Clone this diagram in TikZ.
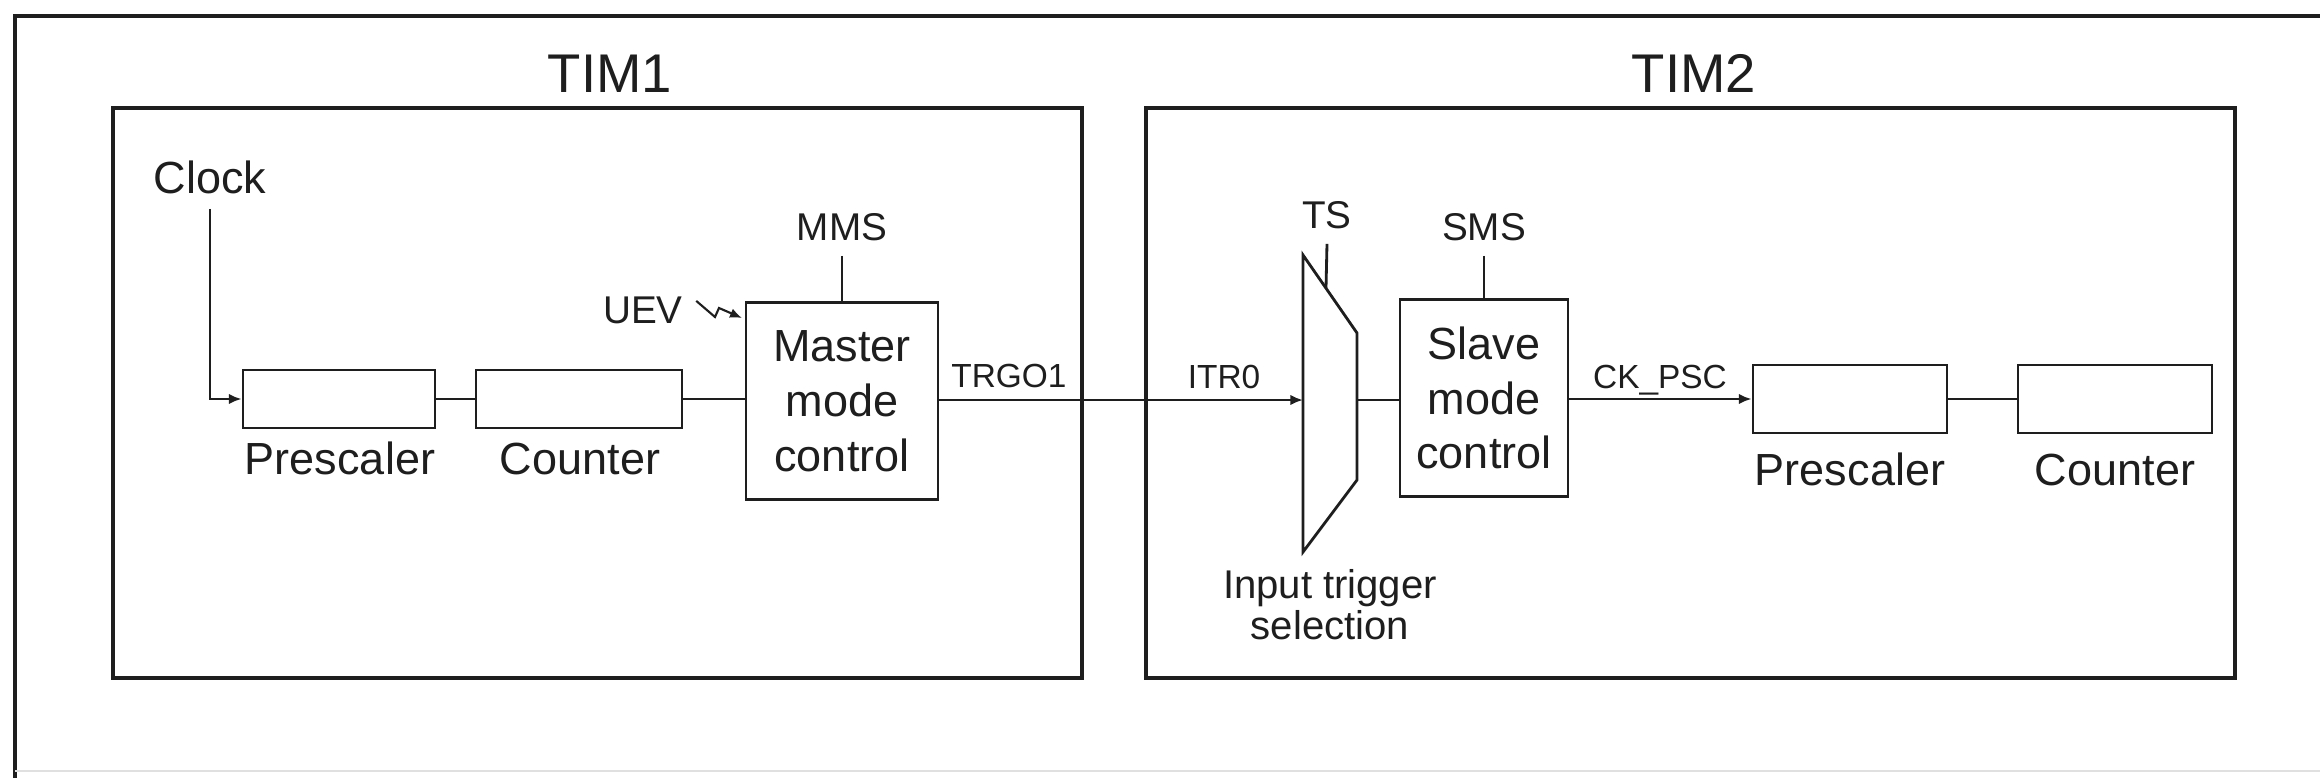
\documentclass[tikz,border=0pt]{standalone}
\usepackage{fontspec}
\setmainfont{Liberation Sans}
\usetikzlibrary{arrows.meta}
\definecolor{ink}{HTML}{1E1E1E}
\begin{document}
\begin{tikzpicture}[x=0.01cm,y=-0.01cm,
  timbox/.style={draw=ink,line width=1.1pt},
  blk/.style={draw=ink,line width=0.8pt,inner sep=0pt,text=ink},
  wire/.style={draw=ink,line width=0.8pt},
  sig/.style={wire,-{Latex[length=3.6pt,width=3pt]}},
  big/.style={font=\fontsize{12.8}{15.6}\selectfont,text=ink},
  mid/.style={font=\fontsize{11}{14.8}\selectfont,text=ink},
  small/.style={font=\fontsize{9.5}{11}\selectfont,text=ink},
  ttl/.style={font=\fontsize{15.5}{18}\selectfont,text=ink},
  lbl/.style={inner sep=4.2pt,anchor=base}]
\useasboundingbox (0,0) rectangle (2320,778);
\fill[white] (0,0) rectangle (2320,778);

% outer frame
\draw[ink,line width=1pt] (2320,16) -- (15,16) -- (15,778);
\draw[black!12,line width=0.6pt] (15,771) -- (2320,771);

% timer frames and titles
\draw[timbox] (113,108) rectangle (1082,678);
\draw[timbox] (1146,108) rectangle (2235,678);
\node[ttl,lbl] (tim1) at (610,92) {TIM1};
\node[ttl,lbl] (tim2) at (1694,92) {TIM2};

% ---- TIM1 ----
\node[big,lbl] (clock) at (210,193) {Clock};
\node[blk,minimum width=1.92cm,minimum height=0.58cm] (pre1) at (339,399) {};
\node[blk,minimum width=2.06cm,minimum height=0.58cm] (cnt1) at (579,399) {};
\node[big,lbl] (pre1l) at (340,474) {Prescaler};
\node[big,lbl] (cnt1l) at (580,474) {Counter};
\node[blk,big,align=center,minimum width=1.92cm,minimum height=1.97cm] (master) at (842,401) {Master\\mode\\control};
\node[mid,lbl] (mms) at (842,240) {MMS};
\node[mid,lbl] (uev) at (643,323) {UEV};
\node[small,lbl] (trgo) at (1009,387) {TRGO1};

\draw[sig] (clock.south) |- (pre1.west);
\draw[wire] (pre1.east) -- (cnt1.west);
\draw[wire] (cnt1.east) -- (master.west |- cnt1.east);
\draw[wire] (mms.south) -- (master.north);
% update event, drawn as a lightning arrow
\coordinate (uevA) at (719,308);
\coordinate (uevB) at (742,318);
\draw[wire,line width=0.6pt,-{Latex[length=3.4pt,width=2.8pt]}] (uev.east) ++(-2,-9) -- (715,317) -- (uevA) -- (uevB);

% ---- TIM2 ----
\coordinate (muxTL) at (1303,255);
\coordinate (muxTR) at (1357,333);
\coordinate (muxBR) at (1357,480);
\coordinate (muxBL) at (1303,552);
\coordinate (muxin) at (1303,400);
\coordinate (muxout) at (1357,400);
\coordinate (tsfoot) at (1326,288);
\draw[wire,line join=miter] (muxTL) -- (muxTR) -- (muxBR) -- (muxBL) -- cycle;
\node[mid,lbl] (ts) at (1327,228) {TS};
\node[font=\fontsize{11.4}{11.6}\selectfont,text=ink,align=center,inner sep=0pt,anchor=north] (itsel) at (1330,569) {Input trigger\\selection};
\node[small,lbl] (itr) at (1224,388) {ITR0};

\node[blk,big,align=center,minimum width=1.68cm,minimum height=1.97cm] (slave) at (1484,398) {Slave\\mode\\control};
\node[mid,lbl] (sms) at (1484,240) {SMS};
\node[small,lbl] (ckpsc) at (1660,388) {CK\_PSC};

\node[blk,minimum width=1.94cm,minimum height=0.68cm] (pre2) at (1850,399) {};
\node[blk,minimum width=1.94cm,minimum height=0.68cm] (cnt2) at (2115,399) {};
\node[big,lbl] (pre2l) at (1850,485) {Prescaler};
\node[big,lbl] (cnt2l) at (2115,485) {Counter};

\draw[sig] (master.east |- muxin) -- (muxin);
\draw[wire] (ts.south) -- (tsfoot);
\draw[wire] (muxout) -- (slave.west |- muxout);
\draw[wire] (sms.south) -- (slave.north);
\draw[sig] (slave.east |- pre2.west) -- (pre2.west);
\draw[wire] (pre2.east) -- (cnt2.west);
\end{tikzpicture}
\end{document}
